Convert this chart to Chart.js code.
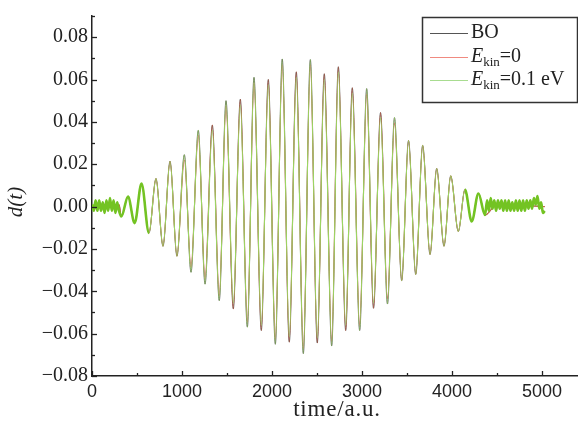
<!DOCTYPE html>
<html>
<head>
<meta charset="utf-8">
<script src="https://cdn.jsdelivr.net/npm/chart.js@4.4.1/dist/chart.umd.min.js"></script>
<style>
  html, body { margin: 0; padding: 0; background: #fff; }
  #wrap { width: 578px; height: 431px; }
</style>
</head>
<body>
<div id="wrap"><canvas id="dipoleChart" width="578" height="431"></canvas></div>
<script>
// extremes of the oscillation (time in a.u.)
const mainTimes = [326, 400, 474, 550, 633, 711, 789, 867, 944, 1026, 1100, 1181, 1256, 1337, 1414, 1489,
    1570, 1648, 1726, 1800, 1881, 1959, 2037, 2114, 2192, 2270, 2348, 2426, 2503, 2581, 2663, 2737,
    2819, 2892, 2974, 3052, 3128, 3206, 3283, 3361, 3441, 3517, 3597, 3674, 3756, 3830, 3911, 3986,
    4070, 4144, 4219, 4294, 4367];

const boValues = [-0.0047, 0.0047, -0.0078, 0.0109, -0.0125, 0.0132, -0.0187, 0.0214, -0.0234, 0.0245,
    -0.031, 0.036, -0.0366, 0.0385, -0.0444, 0.050, -0.0483, 0.0507, -0.0569, 0.061, -0.0585, 0.060,
    -0.065, 0.0697, -0.064, 0.0636, -0.0694, 0.0694, -0.0644, 0.0627, -0.0658, 0.066, -0.0585, 0.0561,
    -0.0585, 0.0557, -0.048, 0.0444, -0.046, 0.042, -0.035, 0.0312, -0.032, 0.0289, -0.0226, 0.018,
    -0.0187, 0.0145, -0.0117, 0.0081, -0.007, 0.0062, -0.004];

const ekin0Values = [-0.0047, 0.0047, -0.0078, 0.0109, -0.0125, 0.0132, -0.0187, 0.0214, -0.0234, 0.022,
    -0.0285, 0.0335, -0.034, 0.0385, -0.042, 0.0475, -0.0483, 0.0507, -0.0545, 0.0585, -0.0585, 0.060,
    -0.0625, 0.067, -0.064, 0.0636, -0.067, 0.067, -0.0644, 0.0627, -0.0635, 0.066, -0.0585, 0.0561,
    -0.056, 0.053, -0.048, 0.0444, -0.0435, 0.0395, -0.035, 0.0312, -0.032, 0.0289, -0.0226, 0.018,
    -0.0187, 0.0145, -0.0117, 0.0081, -0.007, 0.0062, -0.004];

const ekin01Values = [-0.0047, 0.0047, -0.0078, 0.0109, -0.0125, 0.0132, -0.0187, 0.0214, -0.0234, 0.0245,
    -0.031, 0.036, -0.0366, 0.036, -0.0444, 0.050, -0.0455, 0.048, -0.0569, 0.061, -0.056, 0.0575,
    -0.065, 0.0697, -0.0615, 0.061, -0.0694, 0.0694, -0.062, 0.060, -0.0658, 0.0635, -0.056, 0.0535,
    -0.0585, 0.0557, -0.0455, 0.042, -0.046, 0.042, -0.035, 0.0312, -0.032, 0.0289, -0.0226, 0.018,
    -0.0187, 0.0145, -0.0117, 0.0081, -0.007, 0.0062, -0.004];

// noisy green band before and after the pulse (Ekin = 0.1 eV only)
const startNoiseTimes = [0, 20, 40, 60, 80, 100, 120, 140, 160, 180, 200, 220, 240, 260, 280, 300];
const startNoiseValues = [0.001, -0.002, 0.003, -0.002, 0.003, -0.002, 0.002, -0.003, 0.003, -0.002,
    0.004, -0.002, 0.003, -0.003, 0.002, -0.002];
const endNoiseTimes = [4390, 4410, 4430, 4450, 4470, 4490, 4510, 4530, 4550, 4570, 4590, 4610, 4630, 4650,
    4670, 4690, 4710, 4730, 4750, 4770, 4790, 4810, 4830, 4850, 4870, 4890, 4910, 4930, 4950, 4970,
    4990, 5010, 5030];
const endNoiseValues = [0.003, -0.002, 0.004, -0.001, 0.003, -0.002, 0.003, -0.001, 0.003, -0.002, 0.003,
    -0.002, 0.003, -0.002, 0.002, -0.002, 0.003, -0.002, 0.003, -0.002, 0.003, -0.002, 0.003, -0.001,
    0.003, -0.001, 0.004, 0.001, 0.005, -0.001, 0.002, -0.003, -0.002];

const seriesLabels = ['BO', 'Ekin=0', 'Ekin=0.1 eV'];

// tick positions (labels only on the major ones)
const xTickValues = [0, 500, 1000, 1500, 2000, 2500, 3000, 3500, 4000, 4500, 5000];
const xTickLabels = ['0', '', '1000', '', '2000', '', '3000', '', '4000', '', '5000'];
const yTickValues = [-0.08, -0.07, -0.06, -0.05, -0.04, -0.03, -0.02, -0.01, 0, 0.01, 0.02, 0.03, 0.04, 0.05,
    0.06, 0.07, 0.08, 0.09];
const yTickLabels = ['\u22120.08', '', '\u22120.06', '', '\u22120.04', '', '\u22120.02', '', '0.00', '',
    '0.02', '', '0.04', '', '0.06', '', '0.08', ''];

function toPoints(times, values) {
    return times.map((t, i) => ({ x: t, y: values[i] }));
}

const quietTimes = [0, 300];
const quietValues = [0, 0.001];
const tailTimes = [4500, 5030];
const tailValues = [0.001, 0];

const boData = toPoints(quietTimes, quietValues).concat(toPoints(mainTimes, boValues), toPoints(tailTimes, tailValues));
const ekin0Data = toPoints(quietTimes, quietValues).concat(toPoints(mainTimes, ekin0Values), toPoints(tailTimes, tailValues));
const ekin01Data = toPoints(startNoiseTimes, startNoiseValues).concat(
    toPoints(mainTimes, ekin01Values), toPoints(endNoiseTimes, endNoiseValues));

const SERIF = '"Liberation Serif", "DejaVu Serif", serif';
const SANS = '"Liberation Sans", "DejaVu Sans", sans-serif';

// inward tick marks, axis titles and the framed legend
const decorPlugin = {
    id: 'decor',
    afterDraw(chart) {
        const ctx = chart.ctx;
        const area = chart.chartArea;
        const xs = chart.scales.x, ys = chart.scales.y;
        ctx.save();
        ctx.strokeStyle = '#222';
        ctx.lineWidth = 1.3;
        xTickValues.forEach((v, i) => {
            const px = Math.round(xs.getPixelForValue(v)) + 0.5;
            const len = xTickLabels[i] ? 5 : 3;
            ctx.beginPath();
            ctx.moveTo(px, area.bottom);
            ctx.lineTo(px, area.bottom - len);
            ctx.stroke();
        });
        yTickValues.forEach((v, i) => {
            const py = Math.round(ys.getPixelForValue(v)) + 0.5;
            const len = yTickLabels[i] ? 5 : 3;
            ctx.beginPath();
            ctx.moveTo(area.left, py);
            ctx.lineTo(area.left + len, py);
            ctx.stroke();
        });

        // axis titles
        ctx.fillStyle = '#222';
        ctx.textAlign = 'center';
        ctx.textBaseline = 'middle';
        ctx.font = '23px ' + SERIF;
        ctx.letterSpacing = '0.8px';
        ctx.fillText('time/a.u.', (area.left + area.right) / 2 + 2, 410);
        ctx.letterSpacing = '0px';
        ctx.save();
        ctx.translate(16, 202);
        ctx.rotate(-Math.PI / 2);
        ctx.font = 'italic 21px ' + SERIF;
        ctx.fillText('d(t)', 0, 0);
        ctx.restore();

        // legend
        const bx = 422, by = 17, bw = 155, bh = 85;
        ctx.fillStyle = '#fff';
        ctx.fillRect(bx, by, bw, bh);
        ctx.strokeStyle = '#333';
        ctx.lineWidth = 1.5;
        ctx.strokeRect(bx + 0.5, by + 0.5, bw, bh);
        const rows = [33, 57, 80];
        const legendColors = ['#555', '#f08a80', '#a8dc90'];
        ctx.textAlign = 'left';
        ctx.textBaseline = 'middle';
        rows.forEach((ry, i) => {
            ctx.strokeStyle = legendColors[i];
            ctx.lineWidth = 1.2;
            ctx.beginPath();
            ctx.moveTo(430, ry + 0.5);
            ctx.lineTo(468, ry + 0.5);
            ctx.stroke();
            ctx.fillStyle = '#222';
            const label = seriesLabels[i];
            if (label.startsWith('Ekin')) {
                let x = 471;
                ctx.font = 'italic 20px ' + SERIF;
                ctx.fillText('E', x, ry);
                x += ctx.measureText('E').width;
                ctx.font = '13px ' + SERIF;
                ctx.fillText('kin', x, ry + 6);
                x += ctx.measureText('kin').width;
                ctx.font = '20px ' + SERIF;
                ctx.fillText(label.slice(4), x, ry);
            } else {
                ctx.font = '20px ' + SERIF;
                ctx.fillText(label, 471, ry);
            }
        });
        ctx.restore();
    }
};

// the green curve is thicker where it is noisy (before and after the pulse)
const thickNoise = c => (c.p0.parsed.x < 560 || c.p0.parsed.x > 4130 ? 2.6 : undefined);

const ctx = document.getElementById('dipoleChart').getContext('2d');

const dipoleChart = new Chart(ctx, {
    type: 'line',
    data: {
        datasets: [
            {
                label: seriesLabels[0],
                data: boData,
                borderColor: 'rgba(40, 40, 40, 0.9)',
                borderWidth: 0.8,
                pointRadius: 0,
                order: 3
            },
            {
                label: seriesLabels[1],
                data: ekin0Data,
                borderColor: 'rgb(205, 95, 70)',
                borderWidth: 1.1,
                pointRadius: 0,
                order: 2
            },
            {
                label: seriesLabels[2],
                data: ekin01Data,
                borderColor: 'rgb(155, 214, 100)',
                borderWidth: 1.1,
                pointRadius: 0,
                order: 1,
                segment: { borderWidth: thickNoise, borderColor: c => (thickNoise(c) ? 'rgb(115, 195, 35)' : undefined) }
            }
        ]
    },
    options: {
        responsive: false,
        animation: false,
        layout: { padding: { top: 13, right: 0, left: 0, bottom: 0 } },
        plugins: {
            legend: { display: false },
            tooltip: { enabled: false }
        },
        elements: { line: { cubicInterpolationMode: 'monotone' } },
        scales: {
            x: {
                type: 'linear',
                min: 0,
                max: 5400,
                afterBuildTicks(scale) { scale.ticks = xTickValues.map(v => ({ value: v })); },
                afterFit(scale) { scale.height = 55; },
                grid: { display: false, drawTicks: false },
                border: { display: true, color: '#222', width: 1.5 },
                ticks: {
                    padding: 5,
                    autoSkip: false,
                    maxRotation: 0,
                    color: '#222',
                    font: { family: SANS, size: 18 },
                    callback: (v, i) => xTickLabels[i]
                }
            },
            y: {
                min: -0.08,
                max: 0.09,
                afterBuildTicks(scale) { scale.ticks = yTickValues.map(v => ({ value: v })); },
                afterFit(scale) { scale.width = 92; },
                grid: { display: false, drawTicks: false },
                border: { display: true, color: '#222', width: 1.5 },
                ticks: {
                    padding: 4,
                    autoSkip: false,
                    color: '#222',
                    font: { family: SERIF, size: 20 },
                    callback: (v, i) => yTickLabels[i]
                }
            }
        }
    },
    plugins: [decorPlugin]
});
</script>
</body>
</html>
